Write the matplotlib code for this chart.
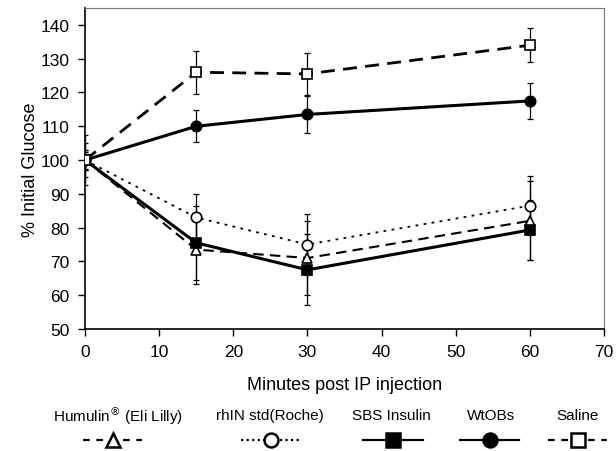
import matplotlib
matplotlib.use("Agg")
import matplotlib.pyplot as plt
from matplotlib.lines import Line2D

plt.rcParams['font.family'] = ['Liberation Sans', 'DejaVu Sans']

minutes = [0, 15, 30, 60]
series_names = ["Humulin$^{\u00AE}$ (Eli Lilly)", "rhIN std(Roche)", "SBS Insulin", "WtOBs", "Saline"]
humulin = [100, 73.5, 71, 82]
humulin_err = [3, 10.3, 11, 11.7]
rhin = [100, 83, 75, 86.5]
rhin_err = [2.5, 7, 9, 8.7]
sbs = [100, 75.5, 67.5, 79.3]
sbs_err = [5, 11, 10.5, 9]
wtobs = [100, 110, 113.5, 117.5]
wtobs_err = [3, 4.8, 5.5, 5.2]
saline = [100, 126, 125.5, 134]
saline_err = [7.3, 6.4, 6.3, 5.1]

styles = [
    dict(ls=(0, (5, 3)), marker='^', mfc='white', lw=1.5),
    dict(ls=(0, (1.5, 3)), marker='o', mfc='white', lw=1.3),
    dict(ls='-', marker='s', mfc='black', lw=2.2),
    dict(ls='-', marker='o', mfc='black', lw=2.2),
    dict(ls=(0, (5, 3)), marker='s', mfc='white', lw=2.0),
]
legend_ls = [(0, (3, 3)), (0, (1, 1.5)), '-', '-', (0, (3, 3))]
data = [(humulin, humulin_err), (rhin, rhin_err), (sbs, sbs_err), (wtobs, wtobs_err), (saline, saline_err)]

fig = plt.figure(figsize=(6.16, 4.52), dpi=100)
ax = fig.add_axes([0.138, 0.270, 0.8425, 0.710])

for (vals, errs), st in zip(data, styles):
    ax.errorbar(minutes, vals, yerr=errs, fmt='none', ecolor='black', elinewidth=0.9, capsize=2, capthick=0.9, zorder=2)
    ax.plot(minutes, vals, color='black', linestyle=st['ls'], lw=st['lw'], marker=st['marker'],
            markersize=7.5, markerfacecolor=st['mfc'], markeredgecolor='black', markeredgewidth=1.2, zorder=3)

ax.set_xlim(0, 70)
ax.set_ylim(50, 145)
ax.set_xticks(range(0, 71, 10))
ax.set_yticks(range(50, 141, 10))
ax.tick_params(direction='out', length=5, width=1, labelsize=12.5)
ax.tick_params(axis='x', pad=6)
ax.tick_params(axis='y', pad=6)
ax.spines['top'].set_color('#777777')
ax.spines['right'].set_color('#777777')
ax.spines['left'].set_linewidth(1.2)
ax.spines['bottom'].set_linewidth(1.2)
ax.set_xlabel("Minutes post IP injection", fontsize=13, labelpad=12)
ax.set_ylabel("% Initial Glucose", fontsize=13, labelpad=1)

# custom legend: label above handle
label_x = [0.1916, 0.438, 0.636, 0.797, 0.938]
handle_x = [0.183, 0.440, 0.638, 0.795, 0.938]
for name, st, lls, lx, hx in zip(series_names, styles, legend_ls, label_x, handle_x):
    fig.text(lx, 0.080, name, ha='center', va='center', fontsize=11)
    half = 0.048
    fig.add_artist(Line2D([hx - half, hx + half], [0.024, 0.024], transform=fig.transFigure,
                          color='black', linestyle=lls, lw=1.6))
    fig.add_artist(Line2D([hx], [0.024], transform=fig.transFigure, color='black', marker=st['marker'],
                          markersize=10, markerfacecolor=st['mfc'], markeredgecolor='black', markeredgewidth=1.8,
                          linestyle='none'))

fig.savefig("out.png", dpi=100)
